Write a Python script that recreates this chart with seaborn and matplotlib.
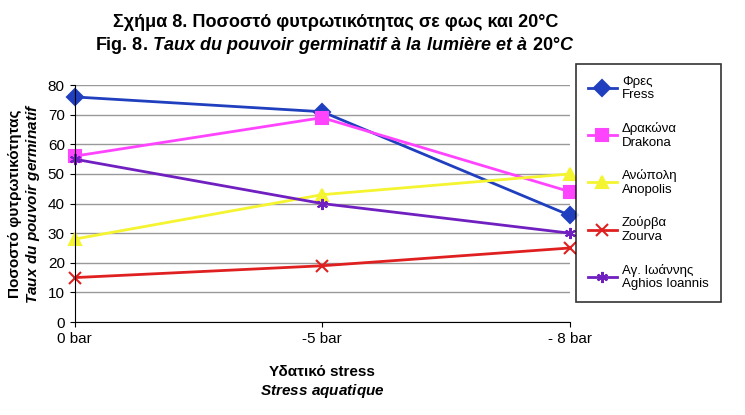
import matplotlib
matplotlib.use("Agg")
import matplotlib.pyplot as plt
import seaborn as sns
import pandas as pd

plt.rcParams["font.family"] = "Liberation Sans"
plt.rcParams["mathtext.fontset"] = "custom"
plt.rcParams["mathtext.it"] = "Liberation Sans:bold:italic"
plt.rcParams["mathtext.rm"] = "Liberation Sans:bold"

categories = ["0 bar", "-5 bar", "- 8 bar"]
series_names = ["Φρες\nFress", "Δρακώνα\nDrakona", "Ανώπολη\nAnopolis", "Ζούρβα\nZourva", "Αγ. Ιωάννης\nAghios Ioannis"]
fress = [76, 71, 36]
drakona = [56, 69, 44]
anopolis = [28, 43, 50]
zourva = [15, 19, 25]
aghios = [55, 40, 30]
yticks = [0, 10, 20, 30, 40, 50, 60, 70, 80]

colors = ["#1f3fbf", "#ff44ff", "#f4f430", "#e02020", "#7020c0"]
markers = ["D", "s", "^", "x", (6, 2, 0)]

rows = []
for name, vals in zip(series_names, [fress, drakona, anopolis, zourva, aghios]):
    for i, v in enumerate(vals):
        rows.append({"series": name, "x": i, "y": v})
df = pd.DataFrame(rows)

fig = plt.figure(figsize=(7.45, 4.15), dpi=100)
ax = fig.add_axes([0.1, 0.224, 0.665, 0.571])
for name, c, m in zip(series_names, colors, markers):
    sub = df[df.series == name]
    sns.lineplot(data=sub, x="x", y="y", ax=ax, color=c, marker=m, markersize=8,
                 linewidth=2, markeredgecolor=c, markeredgewidth=1.5, label=name, clip_on=False)
ax.set_xlim(0, 2)
ax.set_ylim(0, 80)
ax.set_yticks(yticks)
ax.set_xticks([0, 1, 2])
ax.set_xticklabels(categories, fontsize=11)
ax.tick_params(axis="y", labelsize=11)
ax.yaxis.grid(True, color="#999999", linewidth=1)
ax.set_axisbelow(True)
for s in ["top", "right"]:
    ax.spines[s].set_visible(False)
ax.set_xlabel("Υδατικό stress\n$\\it{Stress\\ aquatique}$", fontsize=11, fontweight="bold", labelpad=14)
ax.set_ylabel("Ποσοστό φυτρωτικότητας\n$\\it{Taux\\ du\\ pouvoir\\ germinatif}$", fontsize=11, fontweight="bold")
fig.text(0.45, 0.935, "Σχήμα 8. Ποσοστό φυτρωτικότητας σε φως και 20°C", ha="center", fontsize=13, fontweight="bold")
fig.text(0.45, 0.88, "Fig. 8. $\\it{Taux\\ du\\ pouvoir\\ germinatif\\ à\\ la\\ lumière\\ et\\ à\\ 20°C}$", ha="center", fontsize=13, fontweight="bold")
leg = ax.legend(loc="upper left", bbox_to_anchor=(1.012, 1.09), frameon=True, fancybox=False,
                edgecolor="black", fontsize=9.5, labelspacing=1.55, borderpad=0.9, handlelength=2.2,
                handletextpad=0.4, borderaxespad=0)
leg.get_frame().set_linewidth(1.2)
fig.savefig("out.png", dpi=100, facecolor="white")
